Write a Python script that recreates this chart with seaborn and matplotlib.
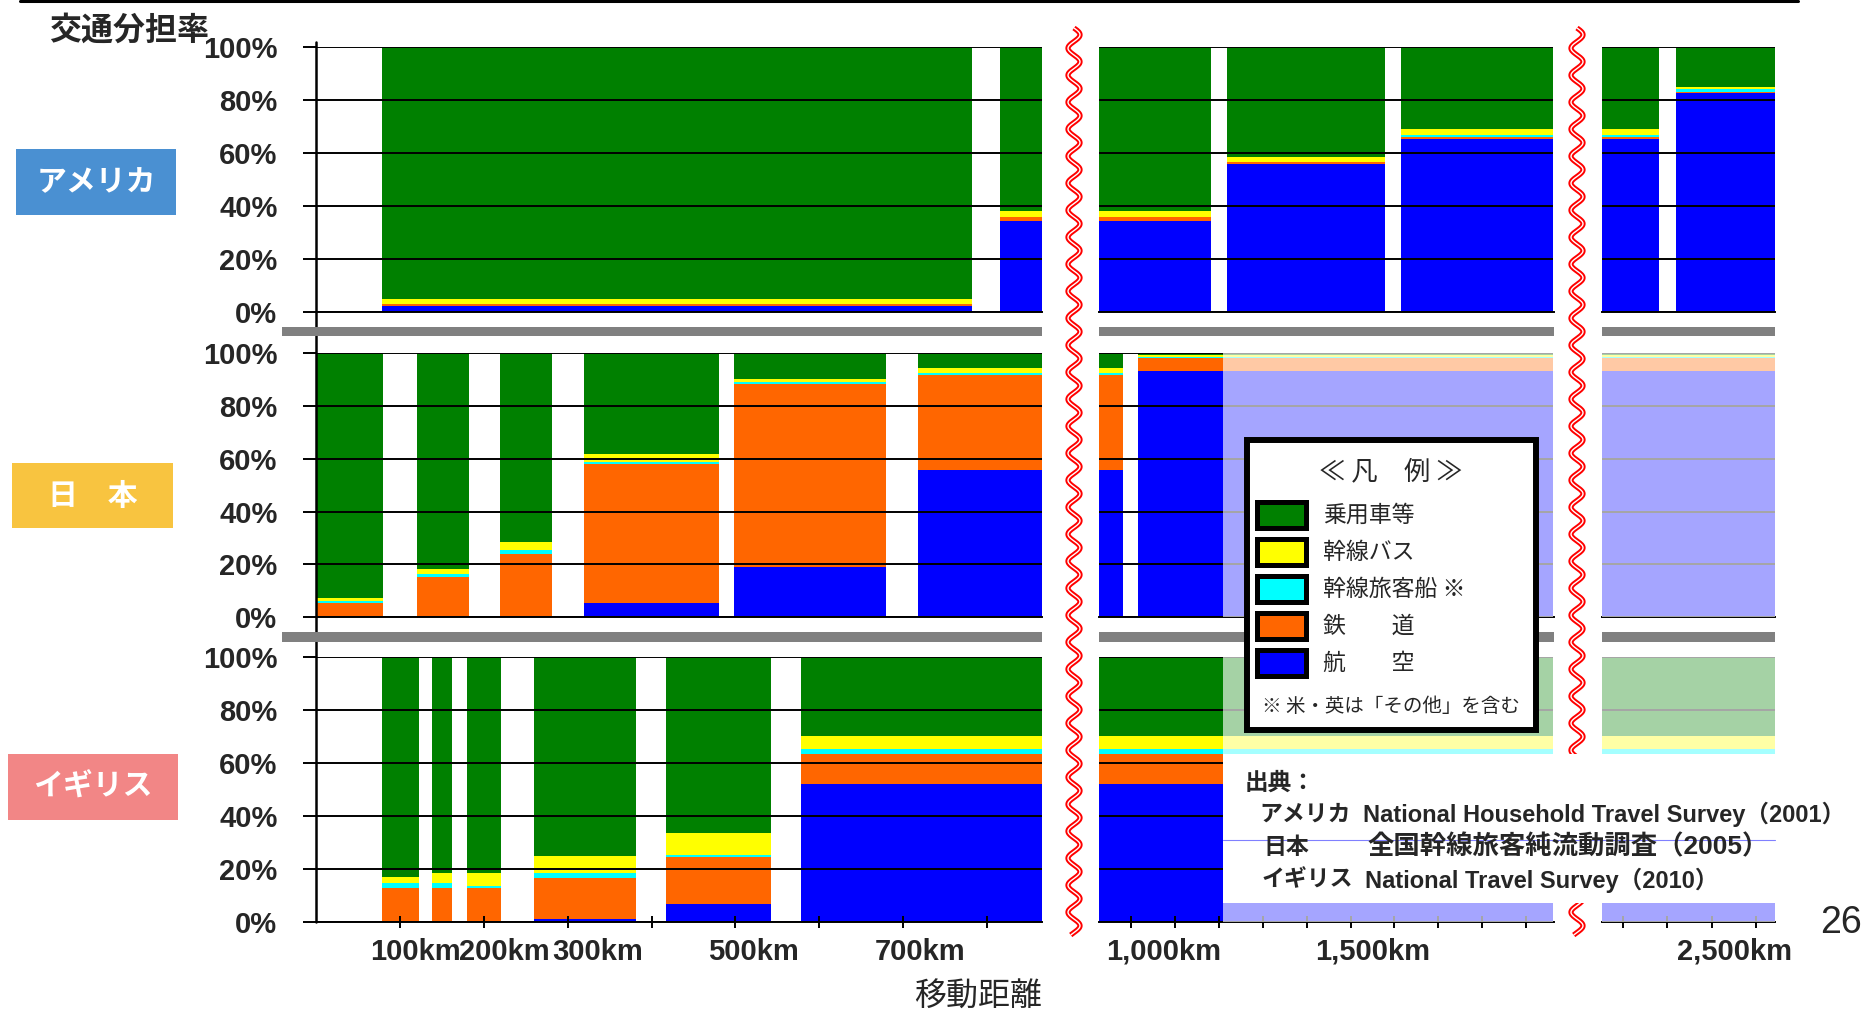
import numpy as np
import pandas as pd
import matplotlib
matplotlib.use("Agg")
import matplotlib.pyplot as plt
from matplotlib.patches import Rectangle
from matplotlib.lines import Line2D
from matplotlib.transforms import Affine2D, blended_transform_factory
import seaborn as sns

# ---------------------------------------------------------------- data
modes = ["乗用車等", "幹線バス", "幹線旅客船 ※", "鉄　　道", "航　　空"]
mode_colors = ["#008000", "#ffff00", "#00ffff", "#ff6600", "#0000ff"]

countries = ["アメリカ", "日　本", "イギリス"]
country_colors = ["#4a90d2", "#f8c440", "#f28686"]

# distance bands (km): left and right edge of every bar
usa_from = [78, 816, 1217, 1616, 2420]
usa_to = [782, 1181, 1579, 2381, 2642]
usa_car = [95.0, 61.7, 41.6, 30.9, 14.8]
usa_bus = [2.1, 2.3, 1.7, 2.3, 1.0]
usa_ship = [0.0, 0.3, 0.1, 0.6, 1.0]
usa_rail = [0.8, 1.4, 0.7, 1.0, 0.6]
usa_air = [2.1, 34.3, 55.9, 65.2, 82.6]

jpn_from = [0, 120, 219, 319, 498, 718, 1016]
jpn_to = [80, 182, 281, 480, 680, 981, 2642]
jpn_car = [92.8, 81.9, 71.5, 38.2, 9.9, 5.8, 0.8]
jpn_bus = [1.1, 1.9, 3.0, 2.9, 1.1, 1.8, 0.9]
jpn_ship = [0.8, 1.1, 1.4, 0.9, 0.9, 0.8, 0.2]
jpn_rail = [5.3, 15.1, 24.1, 52.6, 69.1, 35.9, 5.1]
jpn_air = [0.0, 0.0, 0.0, 5.4, 19.0, 55.7, 93.0]

uk_from = [78, 138, 180, 260, 417, 578]
uk_to = [123, 162, 221, 382, 543, 2642]
uk_car = [83.0, 81.5, 81.5, 75.2, 66.6, 29.8]
uk_bus = [2.5, 4.0, 5.0, 6.6, 8.2, 5.2]
uk_ship = [1.9, 1.9, 0.9, 1.8, 0.6, 1.9]
uk_rail = [12.6, 12.6, 12.6, 15.2, 17.9, 11.0]
uk_air = [0.0, 0.0, 0.0, 1.2, 6.7, 52.1]

y_ticks = [0, 20, 40, 60, 80, 100]
y_tick_labels = ["0%", "20%", "40%", "60%", "80%", "100%"]
km_ticks = [100, 200, 300, 400, 500, 600, 700, 800,
            1000, 1100, 1200, 1300, 1400, 1500, 1600, 1700, 1800, 1900,
            2300, 2400, 2500, 2600]
km_labels = ["100km", "200km", "300km", "500km", "700km",
             "1,000km", "1,500km", "2,500km"]

sources = [("アメリカ", "National Household Travel Survey（2001）"),
           ("日本", "全国幹線旅客純流動調査（2005）"),
           ("イギリス", "National Travel Survey（2010）")]

# -------------------------------------------------------------- layout
W, H = 1865, 1013
segments = [(0, 865.6), (926, 1963), (2253, 2642)]          # km shown per broken segment
seg_px = [(316.1, 1042), (1099, 1553.5), (1602, 1775)]
row_px = [(47.5, 311.8), (352.9, 617.3), (656.7, 921.7)]
km_label_at = [118, 225, 336, 521, 720, 1074, 1550, 2550]  # label centres (km)
fade_from_km = 1209

sns.set_theme(style="white")
plt.rcParams["font.family"] = ["Liberation Sans", "Noto Sans CJK JP", "DejaVu Sans"]
JP = ["Noto Sans CJK JP", "DejaVu Sans"]
MIX = ["Liberation Sans", "Noto Sans CJK JP", "DejaVu Sans"]

fig = plt.figure(figsize=(W / 100, H / 100), dpi=100)
fig.patch.set_facecolor("white")
T = Affine2D().scale(1 / W, -1 / H).translate(0, 1) + fig.transFigure


def long_table(lo, hi, car, bus, ship, rail, air):
    rows = []
    for i in range(len(lo)):
        for m, v in zip(modes, (car[i], bus[i], ship[i], rail[i], air[i])):
            rows.append({"mid": (lo[i] + hi[i]) / 2, "mode": m, "share": v})
    return pd.DataFrame(rows), sorted(lo + hi)


tables = [long_table(usa_from, usa_to, usa_car, usa_bus, usa_ship, usa_rail, usa_air),
          long_table(jpn_from, jpn_to, jpn_car, jpn_bus, jpn_ship, jpn_rail, jpn_air),
          long_table(uk_from, uk_to, uk_car, uk_bus, uk_ship, uk_rail, uk_air)]
palette = dict(zip(modes, mode_colors))

for r, (df, edges) in enumerate(tables):
    y0, y1 = row_px[r]
    for s in range(3):
        x0, x1 = seg_px[s]
        ax = fig.add_axes([x0 / W, 1 - y1 / H, (x1 - x0) / W, (y1 - y0) / H])
        ax.set_facecolor("none")
        sns.histplot(data=df, x="mid", weights="share", hue="mode", hue_order=modes,
                     palette=palette, multiple="stack", bins=edges, element="bars",
                     alpha=1, linewidth=0, legend=False, ax=ax)
        ax.set_xlim(*segments[s])
        ax.set_ylim(0, 100)
        ax.set_xlabel("")
        ax.set_ylabel("")
        for sp in ("left", "right", "top"):
            ax.spines[sp].set_visible(False)
        ax.spines["bottom"].set_color("black")
        ax.spines["bottom"].set_linewidth(1.4)
        ax.set_axisbelow(False)
        ax.yaxis.grid(True, color="black", linewidth=1.4)
        ax.xaxis.grid(False)
        if s == 0:
            ax.set_yticks(y_ticks, labels=y_tick_labels, fontsize=21, fontweight="bold")
            ax.tick_params(axis="y", left=True, length=9.4, width=1.4, color="black",
                           direction="out", pad=18.4)
        else:
            ax.set_yticks(y_ticks)
            ax.tick_params(axis="y", left=False, labelleft=False)
        lo_km, hi_km = segments[s]
        if r == 2:
            ax.set_xticks([k for k in km_ticks if lo_km <= k <= hi_km])
            ax.tick_params(axis="x", bottom=True, length=8.6, width=1.4, color="black",
                           direction="inout", labelbottom=False)
            bt = blended_transform_factory(ax.transData, T)
            for lab, at in zip(km_labels, km_label_at):
                if lo_km <= at <= hi_km:
                    ax.text(at, 952, lab, transform=bt, ha="center", va="center",
                            fontsize=21, fontweight="bold", family=MIX, clip_on=False)
        else:
            ax.set_xticks([])
            ax.tick_params(axis="x", bottom=False, labelbottom=False)
        # columns with no published split are greyed out
        if r > 0 and s > 0:
            fx = max(fade_from_km, lo_km)
            ax.add_patch(Rectangle((fx, 0), hi_km - fx, 100, facecolor="white",
                                   alpha=0.65, linewidth=0, zorder=4))

# continuous y axis line
fig.add_artist(Line2D([316.1, 316.1], [42, 921.7], transform=T, color="black",
                      linewidth=1.8, zorder=5))
# page rule on top
fig.add_artist(Line2D([20, 1798], [1.5, 1.5], transform=T, color="black",
                      linewidth=2.2, zorder=5))

# grey separators between the countries
for yc in (331.5, 637.0):
    for (xa, xb) in ((282, 1042), (1099, 1553.5), (1602, 1775)):
        fig.add_artist(Rectangle((xa, yc - 4.8), xb - xa, 9.6, transform=T,
                                 facecolor="#808080", edgecolor="none", zorder=5))

# wavy axis-break marks
yy = np.linspace(28, 935, 1200)
for xb in (1074, 1577):
    xx = xb + 6.0 * np.sin(2 * np.pi * (yy - 28) / 27)
    fig.add_artist(Line2D(xx, yy, transform=T, color="#ff0000", linewidth=3.8,
                          zorder=6, solid_capstyle="butt"))
    fig.add_artist(Line2D(xx, yy, transform=T, color="white", linewidth=1.0,
                          zorder=6.1, solid_capstyle="butt"))

# titles
fig.text(49, 31, "交通分担率", transform=T, ha="left", va="center", fontsize=23,
         fontweight="bold", family=JP, zorder=9)
fig.text(1042, 997, "移動距離", transform=T, ha="right", va="center", fontsize=23,
         family=JP, zorder=9)
fig.text(1841, 923, "26", transform=T, ha="center", va="center", fontsize=27,
         family=MIX, zorder=9)

# country tags
tag_boxes = [(15.8, 149, 176, 215), (12, 463, 173, 528), (8, 754, 177.7, 820)]
for name, col, (bx0, by0, bx1, by1) in zip(countries, country_colors, tag_boxes):
    fig.add_artist(Rectangle((bx0, by0), bx1 - bx0, by1 - by0, transform=T,
                             facecolor=col, edgecolor="none", zorder=5))
    fig.text((bx0 + bx1) / 2, (by0 + by1) / 2, name, transform=T, ha="center",
             va="center", fontsize=21.5, fontweight="bold", color="white",
             family=JP, zorder=9)

# legend
fig.add_artist(Rectangle((1247, 440), 289, 290, transform=T, facecolor="white",
                         edgecolor="black", linewidth=4.3, zorder=7))
fig.text(1391, 471.5, "≪ 凡　例 ≫", transform=T, ha="center", va="center",
         fontsize=19, family=JP, zorder=9)
for i, (m, c) in enumerate(zip(modes, mode_colors)):
    cy = 515.5 + 37 * i
    fig.add_artist(Rectangle((1257, cy - 13), 49, 26, transform=T, facecolor=c,
                             edgecolor="black", linewidth=3.6, zorder=8))
    fig.text(1323, cy, m, transform=T, ha="left", va="center", fontsize=16.5,
             family=JP, zorder=9)
fig.text(1262, 707, "※ 米・英は「その他」を含む", transform=T, ha="left", va="center",
         fontsize=14, family=JP, zorder=9)

# source note
fig.add_artist(Rectangle((1223, 754), W - 1223, 149, transform=T, facecolor="white",
                         edgecolor="none", zorder=7))
fig.add_artist(Line2D([1223, 1775], [840, 840], transform=T, color="#8080ff",
                      linewidth=0.8, zorder=8))
fig.text(1244.5, 782.5, "出典：", transform=T, ha="left", va="center", fontsize=17,
         fontweight="bold", family=JP, zorder=9)
src_y = [814, 847, 880]
src_x = [(1259, 1363), (1263, 1367.5), (1261.5, 1365)]
src_size = [17, 19, 17]
for (who, what), cy, (xa, xb), fs in zip(sources, src_y, src_x, src_size):
    fig.text(xa, cy, who, transform=T, ha="left", va="center", fontsize=16.5,
             fontweight="bold", family=JP, zorder=9)
    fig.text(xb, cy, what, transform=T, ha="left", va="center", fontsize=fs,
             fontweight="bold", family=MIX, zorder=9)

fig.savefig("out.png", dpi=100, facecolor="white")
